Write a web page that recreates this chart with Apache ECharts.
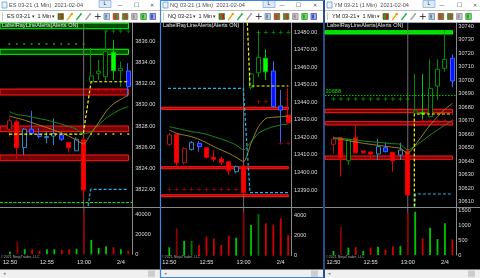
<!DOCTYPE html>
<html><head><meta charset="utf-8">
<script src="https://cdn.jsdelivr.net/npm/echarts@6/dist/echarts.min.js"></script>
<style>html,body{margin:0;padding:0;background:#000;}#c{width:480px;height:278px;}</style>
</head><body><div id="c"></div>
<script>
// ---------------- data ----------------
const minutes = [50,51,52,53,54,55,56,57,58,59,60,61,62,63,64,65,66];
const timeLabels = {50:'12:50',55:'12:55',60:'13:00',65:'2/4'};
const sessionBreak = 60;
const zoneEnd = 66.03;

// ES
const esOpen  = [3827.70,3828.40,3825.95,3827.70,3827.20,3826.90,3827.05,3827.15,3826.45,3825.65,3826.70,3832.20,3833.00,3832.68,3833.25,3833.25,3833.22];
const esClose = [3828.50,3825.95,3827.70,3827.30,3827.00,3827.00,3827.30,3826.75,3825.95,3826.75,3821.93,3832.75,3833.20,3835.05,3835.00,3833.48,3831.73];
const esLow   = [3827.00,3824.90,3825.25,3827.20,3826.83,3826.36,3826.20,3826.60,3825.50,3825.65,3821.00,3832.20,3832.37,3832.20,3832.40,3831.75,3830.80];
const esHigh  = [3828.75,3828.60,3827.80,3829.45,3827.80,3827.46,3828.73,3827.46,3826.45,3826.93,3826.90,3835.40,3834.26,3836.95,3836.15,3834.10,3833.95];
const esKind  = ['HR','R','TB','B','B','TB','TB','B','R','TB','R','HG','HG','HG','L','HG','B'];
const esVol   = [2600,12600,5000,5000,3600,5000,5000,4300,5000,5600,42600,14300,6300,8000,7000,5000,3600];
const esVolKind = ['g','dr','g','r','r','g','g','r','r','g','dr','g','g','g','r','g','r'];
const esEmaFast = [3829.36,3829.09,3829.00,3828.86,3828.71,3828.57,3828.38,3828.19,3827.95,3827.72,3827.25,3827.46,3828.10,3828.73,3829.20,3829.59,3829.83];
const esEmaSlow = [3828.95,3828.76,3828.57,3828.33,3828.10,3827.86,3827.62,3827.34,3827.05,3826.67,3826.29,3827.30,3828.30,3829.36,3830.10,3830.53,3830.94];
const esRedZones = [[3831.51,3830.94],[3828.00,3827.46],[3825.25,3824.71]];
const esGreenZones = [[3837.75,3837.23],[3835.28,3834.80]];
const esYellowPath = [[50,3827.24],[59.95,3827.24],[61.0,3832.2],[66.03,3832.2]];
const esCyanPath = [[60.6,3820.4],[60.95,3822.0],[66.03,3822.0]];
const esGreenDash = 3820.79;
const esLast = 3831.75;
const esTopPlus = {price:3837.0, mins:[63,64,65,66]};
const esRedPlus = {price:3831.42, mins:[62,63,64,65]};
const esGreenDots = {price:3835.78, mins:[50,51,52,53,54,55,56,57,58,59,60]};
const esYellowDots = {price:3827.24, mins:[61,62,63,64,65,66]};

// NQ
const nqOpen  = [13416.07,13421.78,13405.57,13413.22,13416.64,13414.13,13408.65,13407.68,13406.14,13400.43,13403.69,13448.60,13456.94,13457.51,13457.91,13437.93,13432.80];
const nqClose = [13421.38,13405.57,13413.79,13416.99,13414.70,13408.65,13407.51,13405.80,13401.00,13403.29,13388.45,13456.20,13465.73,13465.16,13437.53,13435.65,13428.40];
const nqLow   = [13415.00,13403.29,13404.50,13412.50,13411.85,13408.00,13406.14,13404.26,13398.55,13399.50,13387.50,13447.50,13454.30,13452.77,13437.00,13416.64,13428.20];
const nqHigh  = [13422.50,13422.00,13414.50,13418.00,13417.96,13414.50,13412.80,13409.00,13406.14,13404.00,13404.00,13457.00,13480.34,13470.30,13463.62,13447.07,13448.04];
const nqKind  = ['HR','R','HR','TB','B','R','R','R','R','TB','R','HG','HG','L','B','B','R'];
const nqVol   = [830,2700,1450,1450,1050,1870,1710,1050,1940,1770,4270,3020,4100,3190,3020,3680,2040];
const nqVolKind = ['g','dr','g','dg','r','r','r','r','r','g','dr','g','dg','r','r','r','r'];
const nqEmaFast = [13426.12,13425.21,13424.24,13423.26,13422.69,13421.78,13420.41,13419.10,13417.56,13415.67,13412.82,13417.56,13422.35,13424.63,13426.12,13427.09,13427.66];
const nqEmaSlow = [13424.24,13422.35,13421.38,13420.41,13418.93,13416.99,13414.70,13412.82,13410.94,13408.65,13406.14,13416.64,13426.12,13430.91,13431.48,13431.83,13432.23];
const nqRedZones = [[13437.2,13436.0],[13403.3,13402.1],[13387.3,13386.2]];
const nqGreenZones = [];
const nqYellowPath = [[60.5,13485.5],[60.86,13449.35],[66.03,13449.35]];
const nqCyanPath = [[49.82,13448.04],[59.96,13448.04],[60.86,13388.45],[66.03,13388.45]];
const nqLast = 13428.50;
const nqTopPlus = {price:13480.0, mins:[62,63,64,65,66]};
const nqRedPlusA = {price:13440.4, mins:[62,63]};
const nqRedPlusB = {price:13416.64, mins:[65,66]};
const nqRedPlusC = {price:13390.4, mins:[50,51,52,53,54,55,56,57,58,59]};

// YM
const ymOpen  = [30652.47,30657.35,30640.33,30657.35,30647.51,30646.77,30645.29,30649.95,30646.55,30644.55,30647.51,30675.63,30674.89,30672.89,30695.60,30708.70,30716.10];
const ymClose = [30656.17,30642.55,30656.17,30646.25,30646.25,30645.29,30650.69,30646.99,30640.33,30648.25,30614.96,30677.10,30675.85,30693.90,30707.96,30715.36,30699.30];
const ymLow   = [30645.80,30628.50,30637.15,30646.00,30645.50,30640.85,30640.85,30646.50,30632.20,30640.85,30614.20,30675.30,30670.45,30672.50,30685.25,30706.19,30694.64];
const ymHigh  = [30658.10,30657.60,30656.50,30666.75,30648.00,30647.00,30656.17,30653.65,30646.80,30653.65,30647.80,30704.48,30704.48,30715.36,30715.36,30736.52,30719.06];
const ymKind  = ['HR','R','HG','R','R','R','TB','B','R','TB','R','HG','L','HG','HG','HG','B'];
const ymVol   = [136,960,250,270,136,250,280,190,300,300,1440,1470,570,930,540,1080,530];
const ymVolKind = ['g','dr','g','r','g','r','g','r','r','g','dr','g','r','g','g','g','r'];
const ymEmaFast = [30657.65,30656.91,30656.17,30655.65,30654.91,30654.39,30653.95,30653.43,30652.91,30652.47,30648.25,30651.21,30655.13,30659.35,30663.05,30666.75,30669.93];
const ymEmaSlow = [30656.91,30656.17,30655.13,30654.17,30653.21,30652.47,30651.73,30650.99,30650.25,30649.51,30645.81,30651.95,30659.35,30666.75,30672.89,30678.37,30682.80];
const ymRedZones = [[30678.37,30675.85],[30669.19,30666.75],[30643.81,30641.37]];
const ymGreenZones = [[30736.52,30734.08]];
const ymYellowPath = [[60.88,30606.5],[60.88,30674.89],[66.03,30674.89]];
const ymCyanPath = [[60.95,30606.5],[61.02,30615.7],[66.03,30615.7]];
const ymDotLine = 30688.95;
const ymDotLabel = '30688';
const ymLast = 30699;
const ymGreenPlus = {price:30686.0, mins:[50,51,52,53,54,55,56,57,58,59,60]};
const ymRedPlus = {price:30669.93, mins:[62,63,64,65,66]};

// ---------------- styles ----------------
const FONT = '"Liberation Sans", Arial, sans-serif';
const candleLook = {
  R:  {fill:'#ff0000', edge:'#e00000'},
  HR: {fill:'#000000', edge:'#a81818'},
  TB: {fill:'#000000', edge:'#2c8cc4'},
  B:  {fill:'#0a14ff', edge:'#3a66ff'},
  HG: {fill:'#000000', edge:'#008c00'},
  L:  {fill:'#00ff00', edge:'#00c800'}
};
const volColor = {g:'#00c800', dg:'#007800', r:'#d00000', dr:'#8b0000'};
const PLUS = 'path://M2,0H3V2H5V3H3V5H2V3H0V2H2Z';

const panels = [
  {title:'ES 03-21 (1 Min)  2021-02-04', tool:'ES 03-21', L:0, W:160, plotLeft:0, plotW:132.7,
   xMin:48.75, xMax:66.6, pMin:3820.32, pMax:3837.82, pStep:2, dec:2, pMargin:2.5,
   vMax:47300, vStep:20000, volH:47.3, tMargin:5.5, textX:2, lBtn:99, ctrl:[120,136,152],
   open:esOpen, close:esClose, low:esLow, high:esHigh, kind:esKind, vol:esVol, volKind:esVolKind,
   fast:esEmaFast, slow:esEmaSlow, red:esRedZones, green:esGreenZones,
   redFill:'rgba(140,0,0,0.85)', greenFill:'rgba(0,95,0,0.85)',
   yellow:esYellowPath, cyan:esCyanPath, last:esLast,
   hlines:[{v:esGreenDash, color:'#00ee00', type:[3,1.5]}],
   marks:[{d:esTopPlus, s:'plus', c:'#00b000'},{d:esRedPlus, s:'plus', c:'#e00000'},
          {d:esGreenDots, s:'dot', c:'#00c000'},{d:esYellowDots, s:'dot', c:'#e8e800'}]},
  {title:'NQ 03-21 (1 Min)  2021-02-04', tool:'NQ 03-21', L:161, W:162, plotLeft:161.5, plotW:129.5,
   xMin:48.95, xMax:66.38, pMin:13380.29, pMax:13485.59, pStep:10, dec:2, pMargin:3,
   vMax:4797, vStep:2000, volH:48.7, tMargin:4, textX:163, lBtn:263, ctrl:[282,298,315],
   open:nqOpen, close:nqClose, low:nqLow, high:nqHigh, kind:nqKind, vol:nqVol, volKind:nqVolKind,
   fast:nqEmaFast, slow:nqEmaSlow, red:nqRedZones, green:nqGreenZones,
   redFill:'#c00000', greenFill:'#008000',
   yellow:nqYellowPath, cyan:nqCyanPath, last:nqLast, hlines:[],
   marks:[{d:nqTopPlus, s:'plus', c:'#00b000'},{d:nqRedPlusA, s:'plus', c:'#d00000'},
          {d:nqRedPlusB, s:'plus', c:'#d00000'},{d:nqRedPlusC, s:'plus', c:'#d00000'}]},
  {title:'YM 03-21 (1 Min)  2021-02-04', tool:'YM 03-21', L:325, W:155, plotLeft:325, plotW:131,
   xMin:48.86, xMax:66.49, pMin:30606.07, pMax:30742.59, pStep:10, dec:0, pMargin:2.3,
   vMax:1633, vStep:500, volH:48, tMargin:4.7, textX:327, lBtn:423, ctrl:[442,459,475],
   open:ymOpen, close:ymClose, low:ymLow, high:ymHigh, kind:ymKind, vol:ymVol, volKind:ymVolKind,
   fast:ymEmaFast, slow:ymEmaSlow, red:ymRedZones, green:ymGreenZones,
   redFill:'rgba(140,0,0,0.85)', greenFill:'#00dc00',
   yellow:ymYellowPath, cyan:ymCyanPath, last:ymLast,
   hlines:[{v:ymDotLine, color:'#00c000', type:[1.5,1.5], label:ymDotLabel}],
   marks:[{d:ymGreenPlus, s:'plus', c:'#00b000'},{d:ymRedPlus, s:'plus', c:'#d00000'}]}
];

// ---------------- build ----------------
const grid=[], xAxis=[], yAxis=[], series=[], graphic=[];
const onStep = (v, s) => Math.abs(v/s - Math.round(v/s)) < 1e-6;

panels.forEach((P, k) => {
  const gp = k*2, gv = k*2+1;
  grid.push({left:P.plotLeft, top:22.5, width:P.plotW, height:184.5});
  grid.push({left:P.plotLeft, top:207, width:P.plotW, height:P.volH});
  xAxis.push({type:'value', gridIndex:gp, min:P.xMin, max:P.xMax, show:false});
  xAxis.push({type:'value', gridIndex:gv, min:P.xMin, max:P.xMax, minInterval:5, maxInterval:5,
    axisLine:{show:false}, axisTick:{show:false}, splitLine:{show:false},
    axisLabel:{showMinLabel:false, showMaxLabel:false, color:'#e0e0e0', fontSize:5.6, fontFamily:FONT,
      margin:P.tMargin, formatter:v => timeLabels[Math.round(v)] && onStep(v,1) ? timeLabels[Math.round(v)] : ''}});
  yAxis.push({type:'value', gridIndex:gp, position:'right', min:P.pMin, max:P.pMax,
    minInterval:P.pStep, maxInterval:P.pStep,
    axisLine:{show:true, lineStyle:{color:'#8a8a8a', width:1}}, axisTick:{show:false}, splitLine:{show:false},
    axisLabel:{showMinLabel:false, showMaxLabel:false, color:'#d8d8d8', fontSize:5.6, fontFamily:FONT,
      margin:P.pMargin, formatter:v => onStep(v, P.pStep) ? v.toFixed(P.dec) : ''}});
  yAxis.push({type:'value', gridIndex:gv, position:'right', min:0, max:P.vMax,
    minInterval:P.vStep, maxInterval:P.vStep,
    axisLine:{show:true, lineStyle:{color:'#8a8a8a', width:1}}, axisTick:{show:false}, splitLine:{show:false},
    axisLabel:{showMaxLabel:false, color:'#d8d8d8', fontSize:5.6, fontFamily:FONT, margin:P.pMargin,
      formatter:v => onStep(v, P.vStep) ? String(v) : ''}});

  // zones + full-width lines
  const hl = P.hlines.map(h => ({yAxis:h.v, lineStyle:{color:h.color, type:h.type, width:1},
    label: h.label ? {show:true, position:'insideStartTop', formatter:h.label, color:'#00e000',
      fontSize:5.6, fontFamily:FONT, distance:0.5} : {show:false}}));
  series.push({type:'line', xAxisIndex:gp, yAxisIndex:gp, data:[[P.xMin,P.pMin]], symbol:'none',
    lineStyle:{opacity:0}, silent:true, z:1,
    markArea:{silent:true, itemStyle:{color:P.redFill, borderColor:'#ff1a1a', borderWidth:1},
      data:P.red.map(z => [{xAxis:P.xMin, yAxis:z[0]},{xAxis:zoneEnd, yAxis:z[1]}])},
    markLine:{silent:true, symbol:'none', data:hl}});
  if (P.green.length) series.push({type:'line', xAxisIndex:gp, yAxisIndex:gp, data:[[P.xMin,P.pMin]], symbol:'none',
    lineStyle:{opacity:0}, silent:true, z:1,
    markArea:{silent:true, itemStyle:{color:P.greenFill, borderColor:'#00ff00', borderWidth:1},
      data:P.green.map(z => [{xAxis:P.xMin, yAxis:z[0]},{xAxis:zoneEnd, yAxis:z[1]}])}});
  // session break
  series.push({type:'line', xAxisIndex:gp, yAxisIndex:gp, data:[[sessionBreak,P.pMin],[sessionBreak,P.pMax]],
    symbol:'none', silent:true, z:1, lineStyle:{color:'#707070', width:1}});
  series.push({type:'line', xAxisIndex:gv, yAxisIndex:gv, data:[[sessionBreak,0],[sessionBreak,P.vMax]],
    symbol:'none', silent:true, z:1, lineStyle:{color:'#707070', width:1}});
  // candles
  series.push({type:'candlestick', xAxisIndex:gp, yAxisIndex:gp, barWidth:4.5, z:3, silent:true,
    encode:{x:0, y:[1,2,3,4]},
    data:minutes.map((m,i) => {
      const lk = candleLook[P.kind[i]];
      return {value:[m, P.open[i], P.close[i], P.low[i], P.high[i]],
        itemStyle:{color:lk.fill, color0:lk.fill, borderColor:lk.edge, borderColor0:lk.edge, borderWidth:1}};
    }),
    markLine:{silent:true, symbol:'none', data:[{yAxis:P.last, lineStyle:{opacity:0},
      label:{show:true, position:'end', distance:1, formatter:() => P.last.toFixed(P.dec),
        backgroundColor:'#10e010', color:'#000', fontSize:5.6, fontFamily:FONT, padding:[1,1.5,0.5,1.5]}}]}});
  // EMA lines
  series.push({type:'line', xAxisIndex:gp, yAxisIndex:gp, data:minutes.map((m,i)=>[m,P.fast[i]]),
    symbol:'none', smooth:0.2, z:4, silent:true, lineStyle:{color:'#1f8a1f', width:1}});
  series.push({type:'line', xAxisIndex:gp, yAxisIndex:gp, data:minutes.map((m,i)=>[m,P.slow[i]]),
    symbol:'none', smooth:0.2, z:4, silent:true, lineStyle:{color:'#9a8620', width:1}});
  // step lines
  series.push({type:'line', xAxisIndex:gp, yAxisIndex:gp, data:P.cyan, symbol:'none', z:4, silent:true,
    lineStyle:{color:'#22b4ee', width:1.2, type:[3,2]}});
  series.push({type:'line', xAxisIndex:gp, yAxisIndex:gp, data:P.yellow, symbol:'none', z:4, silent:true,
    lineStyle:{color:'#ffff00', width:1.2, type:[3,2]}});
  // markers
  P.marks.forEach(mk => series.push({type:'scatter', xAxisIndex:gp, yAxisIndex:gp, silent:true, z:5,
    symbol: mk.s === 'plus' ? PLUS : 'rect', symbolSize: mk.s === 'plus' ? 4 : 1.8,
    itemStyle:{color:mk.c}, data:mk.d.mins.map(m => [m, mk.d.price])}));
  // volume
  series.push({type:'bar', xAxisIndex:gv, yAxisIndex:gv, barWidth:1.8, z:3, silent:true,
    data:minutes.map((m,i) => ({value:[m, P.vol[i]], itemStyle:{color:volColor[P.volKind[i]]}}))});

  // ---- window chrome ----
  const L = P.L, W = P.W, R = L + W;
  const T = (x, y, text, size, fill, extra) => ({type:'text', x, y, z:60, silent:true,
    style:Object.assign({text, fill, fontSize:size, fontFamily:FONT, verticalAlign:'middle'}, extra||{})});
  const Rc = (x, y, w, h, fill, stroke, lw) => ({type:'rect', z:55, silent:true, shape:{x, y, width:w, height:h},
    style:{fill, stroke:stroke||null, lineWidth:lw||0}});
  graphic.push(Rc(L, 0, W, 10.5, '#ffffff'));
  graphic.push(Rc(L+2, 2, 5, 6, '#e6f2ff', '#3a80c0', 0.6));
  graphic.push(T(L+9, 5.5, P.title, 5.6, '#505050'));
  graphic.push(Rc(P.lBtn, 0.5, 12, 7, '#dce9f9', '#6b9bd6', 0.6));
  graphic.push(T(P.lBtn+6, 4, 'L', 5, '#333', {align:'center'}));
  graphic.push(T(P.ctrl[0], 5.5, '—', 5, '#444', {align:'center'}));
  graphic.push(T(P.ctrl[1], 5.5, '☐', 5.5, '#444', {align:'center'}));
  graphic.push(T(P.ctrl[2], 5.5, '✕', 5, '#444', {align:'center'}));
  graphic.push(Rc(L, 10.5, W, 12, '#ffffff'));
  graphic.push({type:'line', z:56, silent:true, shape:{x1:L+2.5, y1:12.5, x2:L+2.5, y2:20.5}, style:{stroke:'#b8b8b8', lineWidth:0.8}});
  graphic.push(T(L+7, 16.5, P.tool, 5.6, '#222'));
  graphic.push(T(L+32, 16.5, '▾', 4.5, '#333'));
  graphic.push(T(L+37.5, 16.5, '1 Min', 5.6, '#222'));
  graphic.push(T(L+52, 16.5, '▾', 4.5, '#333'));
  const icons = [['#2a9a2a','#d02020'],['#e0b000','#f07000'],['#20b040','#90e0a0'],['#a0a0a0','#d0d0d0'],
                 ['#202020','#202020'],['#6a8ab0','#c0d0e0'],['#d03030','#30a030'],['#30a030','#d03030'],
                 ['#909090','#c8c8c8'],['#20a020','#80d080'],['#4050c0','#a0a8e0']];
  icons.forEach((ic, j) => {
    const x = L + 58 + j*9.2;
    if (x + 6 > R) return;
    if (j === 4) {
      graphic.push({type:'line', z:56, silent:true, shape:{x1:x, y1:16.5, x2:x+6, y2:16.5}, style:{stroke:ic[0], lineWidth:0.8}});
      graphic.push({type:'line', z:56, silent:true, shape:{x1:x+3, y1:13.5, x2:x+3, y2:19.5}, style:{stroke:ic[0], lineWidth:0.8}});
    } else if (j === 1 || j === 2 || j === 3) {
      graphic.push({type:'line', z:56, silent:true, shape:{x1:x, y1:20, x2:x+5, y2:13.5}, style:{stroke:ic[0], lineWidth:1.3}});
      graphic.push(Rc(x+3.5, 13, 2, 2, ic[1]));
    } else {
      graphic.push(Rc(x, 13.5, 5.5, 6, ic[1], ic[0], 0.8));
      graphic.push(Rc(x+1, 14.5, 2, 4, ic[0]));
    }
  });
  graphic.push({type:'line', z:56, silent:true, shape:{x1:L, y1:22.5, x2:R, y2:22.5}, style:{stroke:'#d0d0d0', lineWidth:0.5}});
  graphic.push(Rc(L, 269.5, W, 8.5, '#f0f0f0'));
  graphic.push(T(L+2.5, 273.8, '◂', 5, '#888'));
  graphic.push(Rc(R-12, 270.5, 7, 6.5, '#cdcdcd'));
  graphic.push(T(P.textX, 25.5, 'LabelRayLineAlerts(Alerts ON)', 5.6, '#e6e6e6'));
  graphic.push(T(L+1, 256.5, '©2021 NinjaTrader, LLC', 3.6, '#a8a8a8'));
  graphic.push({type:'line', z:56, silent:true, shape:{x1:L, y1:207.5, x2:R, y2:207.5}, style:{stroke:'#8a8a8a', lineWidth:1}});
});
// active window frame
graphic.push({type:'rect', z:70, silent:true, shape:{x:160.5, y:0.5, width:163.5, height:277}, style:{fill:null, stroke:'#3f86de', lineWidth:1.2}});

const chart = echarts.init(document.getElementById('c'), null, {renderer:'canvas', width:480, height:278});
chart.setOption({backgroundColor:'#000000', animation:false, grid, xAxis, yAxis, series, graphic});
</script>
</body></html>
